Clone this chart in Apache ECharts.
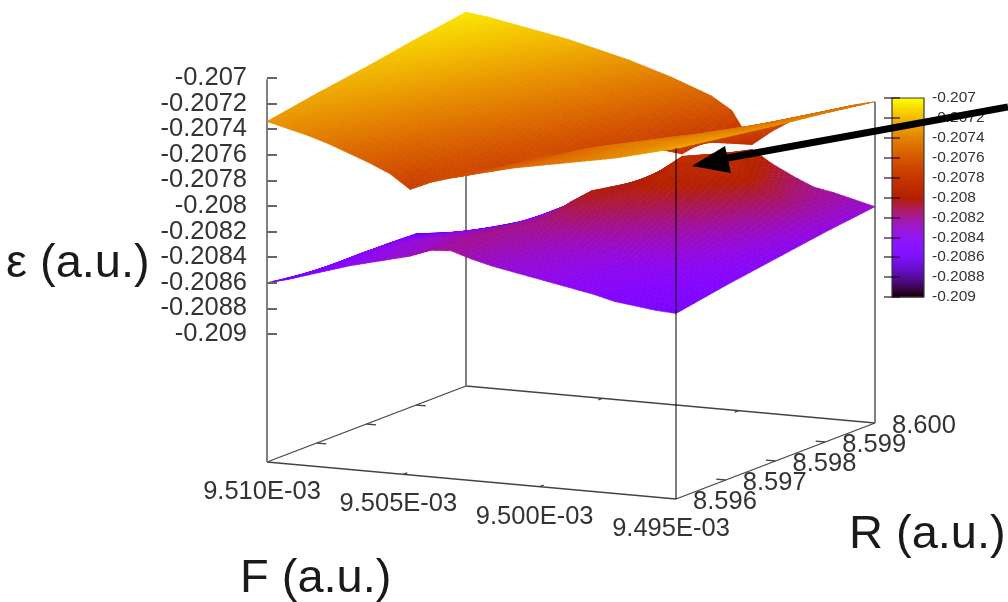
<!DOCTYPE html>
<html><head><meta charset="utf-8">
<style>html,body{margin:0;padding:0;background:#fff}#c{width:1008px;height:602px}</style>
<script src="https://cdn.jsdelivr.net/npm/echarts@6/dist/echarts.min.js"></script>
</head><body><div id="c"></div>
<script>
// ---- values ----
const fValues = [0.00951,0.00950925,0.0095085,0.00950775,0.009507,0.00950625,0.0095055,0.00950475,0.009504,0.00950325,0.0095025,0.00950175,0.009501,0.00950025,0.0094995,0.00949875,0.009498,0.00949725,0.0094965,0.00949575,0.009495];
const rValues = [8.596,8.597,8.598,8.599,8.6];
const upperR8596 = [-0.20733,-0.20737,-0.20741,-0.20746,-0.20752,-0.20758,-0.20765,-0.20776,-0.20769,-0.20764,-0.2076,-0.20756,-0.20752,-0.20749,-0.20746,-0.20743,-0.2074,-0.20737,-0.20733,-0.20729,-0.20725];
const upperR8597 = [-0.20726,-0.20729,-0.20733,-0.20737,-0.20742,-0.20747,-0.20752,-0.20758,-0.20766,-0.20772,-0.20765,-0.2076,-0.20756,-0.20751,-0.20747,-0.20744,-0.20741,-0.20739,-0.20736,-0.20734,-0.20731];
const upperR8598 = [-0.2072,-0.20722,-0.20725,-0.20729,-0.20733,-0.20737,-0.20741,-0.20746,-0.20751,-0.20757,-0.20767,-0.20775,-0.20766,-0.20761,-0.20757,-0.20753,-0.2075,-0.20746,-0.20743,-0.2074,-0.20737];
const upperR8599 = [-0.20713,-0.20715,-0.20718,-0.20721,-0.20725,-0.20729,-0.20733,-0.20737,-0.20742,-0.20747,-0.20753,-0.2076,-0.20772,-0.20784,-0.20773,-0.20765,-0.2076,-0.20755,-0.2075,-0.20746,-0.20742];
const upperR8600 = [-0.20707,-0.20709,-0.20712,-0.20715,-0.20718,-0.20721,-0.20725,-0.20729,-0.20733,-0.20738,-0.20743,-0.20749,-0.20755,-0.20765,-0.2079,-0.20778,-0.20768,-0.20762,-0.20757,-0.20752,-0.20748];
const lowerR8596 = [-0.20859,-0.20855,-0.2085,-0.20845,-0.2084,-0.20836,-0.20832,-0.20828,-0.20822,-0.20821,-0.20826,-0.2083,-0.20833,-0.20836,-0.20839,-0.20842,-0.20845,-0.20849,-0.20851,-0.20853,-0.20854];
const lowerR8597 = [-0.20865,-0.20857,-0.20849,-0.20842,-0.20836,-0.20832,-0.20829,-0.20826,-0.20822,-0.20818,-0.20821,-0.20824,-0.20827,-0.2083,-0.20833,-0.20836,-0.20838,-0.20841,-0.20843,-0.20845,-0.20847];
const lowerR8598 = [-0.20865,-0.20857,-0.2085,-0.20847,-0.20844,-0.20841,-0.20838,-0.20835,-0.20831,-0.20823,-0.20811,-0.20801,-0.20804,-0.20808,-0.20811,-0.20815,-0.2082,-0.20825,-0.2083,-0.20836,-0.20841];
const lowerR8599 = [-0.20865,-0.20864,-0.20862,-0.20861,-0.20857,-0.20852,-0.20845,-0.20836,-0.20828,-0.20823,-0.20816,-0.20808,-0.20798,-0.20786,-0.20788,-0.2079,-0.20797,-0.20806,-0.20815,-0.20825,-0.20835];
const lowerR8600 = [-0.2088,-0.20875,-0.2087,-0.20865,-0.20858,-0.2085,-0.20841,-0.20835,-0.2083,-0.20828,-0.20815,-0.20809,-0.20803,-0.20798,-0.20794,-0.20804,-0.20812,-0.20819,-0.20822,-0.20826,-0.2083];
const fTickValues = [0.00951,0.009505,0.0095,0.009495];
const fTickLabels = ['9.510E-03','9.505E-03','9.500E-03','9.495E-03'];
const rTickValues = [8.596,8.597,8.598,8.599,8.6];
const rTickLabels = ['8.596','8.597','8.598','8.599','8.600'];
const zTicks = [-0.209,-0.2088,-0.2086,-0.2084,-0.2082,-0.208,-0.2078,-0.2076,-0.2074,-0.2072,-0.207];

const upperRows = [upperR8596,upperR8597,upperR8598,upperR8599,upperR8600];
const lowerRows = [lowerR8596,lowerR8597,lowerR8598,lowerR8599,lowerR8600];

// ---- orthographic view of the (F, R, energy) box onto page pixels ----
const FONT = '"Liberation Sans", Arial, sans-serif';
const F0 = 0.00951, F1 = 0.009495, R0 = 8.596, R1 = 8.6, Zb = -0.20999;
function baseY(F,R){ const u=(F0-F)/(F0-F1), v=(R-R0)/(R1-R0); return 462+37*u-76*v; }
function project(F,R,E){
  const u=(F0-F)/(F0-F1), v=(R-R0)/(R1-R0);
  return [267+409*u+199*v, baseY(F,R)-(E-Zb)*128000];
}
function nearness(F,R,E){ return baseY(F,R)*5.28+(E-Zb)*128000*0.19; }

// gnuplot default pm3d palette (rgbformulae 7,5,15) over the colour range
function palette(E){
  const x=Math.max(0,Math.min(1,(E+0.209)/0.002));
  const r=Math.sqrt(x), g=x*x*x, b=Math.max(0,Math.sin(2*Math.PI*x));
  return 'rgb('+Math.round(r*255)+','+Math.round(g*255)+','+Math.round(b*255)+')';
}

// Fine cells for smooth shading: each read value cell is shaded in sub-steps.
const SUB_F=4, SUB_R=8, cells=[];
function sample(rows,a,b){
  const i=Math.min(Math.floor(a),fValues.length-2), j=Math.min(Math.floor(b),rValues.length-2);
  const s=a-i, t=b-j;
  const E=(1-t)*((1-s)*rows[j][i]+s*rows[j][i+1])+t*((1-s)*rows[j+1][i]+s*rows[j+1][i+1]);
  const F=fValues[i]+(fValues[i+1]-fValues[i])*s, R=rValues[j]+(rValues[j+1]-rValues[j])*t;
  return [F,R,E];
}
[upperRows,lowerRows].forEach(function(rows){
  for(let a=0;a<(fValues.length-1)*SUB_F;a++) for(let b=0;b<(rValues.length-1)*SUB_R;b++){
    const q=[sample(rows,a/SUB_F,b/SUB_R),sample(rows,(a+1)/SUB_F,b/SUB_R),sample(rows,(a+1)/SUB_F,(b+1)/SUB_R),sample(rows,a/SUB_F,(b+1)/SUB_R)];
    const avg=k=>(q[0][k]+q[1][k]+q[2][k]+q[3][k])/4;
    const c=project(avg(0),avg(1),avg(2));
    cells.push({pts:q.map(p=>project(p[0],p[1],p[2])),E:avg(2),n:nearness(avg(0),avg(1),avg(2)),c:c});
  }
});
cells.sort((p,q)=>p.n-q.n);

const lineStyleBase={stroke:'#444',lineWidth:1.3};
const lineStyleVert={stroke:'#808080',lineWidth:2};

function boxBack(){
  return [
    [[F0,R0,Zb],[F1,R0,Zb]],[[F0,R0,Zb],[F0,R1,Zb]],[[F0,R1,Zb],[F1,R1,Zb]],[[F1,R0,Zb],[F1,R1,Zb]],
  ];
}
const verticals=[
  [[F0,R0,Zb],[F0,R0,-0.207]],
  [[F0,R1,Zb],[F0,R1,upperR8600[0]]],
  [[F1,R1,Zb],[F1,R1,upperR8600[20]]],
];
const frontVertical=[[F1,R0,Zb],[F1,R0,upperR8596[20]]];

function seg(api,a,b,style){
  const p=api.coord(project(a[0],a[1],a[2])), q=api.coord(project(b[0],b[1],b[2]));
  return {type:'line',shape:{x1:p[0],y1:p[1],x2:q[0],y2:q[1]},style:style,silent:true};
}

const option={
  animation:false,
  backgroundColor:'#fff',
  grid:[
    {left:0,top:0,width:1008,height:602},
    {left:267,top:78,width:10,height:256},
    {left:892,top:98,width:32,height:199}
  ],
  xAxis:[
    {gridIndex:0,type:'value',min:0,max:1008,show:false},
    {gridIndex:1,type:'value',min:0,max:1,show:false},
    {gridIndex:2,type:'value',min:0,max:1,show:false}
  ],
  yAxis:[
    {gridIndex:0,type:'value',min:0,max:602,inverse:true,show:false},
    {gridIndex:1,type:'value',min:-0.209,max:-0.207,position:'left',
     axisLine:{show:false},splitLine:{show:false},
     axisTick:{show:true,inside:true,length:10,customValues:zTicks,lineStyle:{color:'#666',width:2}},
     axisLabel:{show:false},z:3},
    {gridIndex:2,type:'value',min:-0.209,max:-0.207,position:'right',
     axisLine:{show:false},splitLine:{show:false},
     axisTick:{show:true,inside:true,length:8,customValues:zTicks,lineStyle:{color:'rgba(30,0,30,0.75)',width:1.5}},
     axisLabel:{show:true,margin:8,customValues:zTicks,showMinLabel:true,showMaxLabel:true,hideOverlap:false,formatter:v=>String(v),fontFamily:FONT,fontSize:15.5,color:'#333'},z:5},
    {gridIndex:2,type:'value',min:-0.209,max:-0.207,position:'left',
     axisLine:{show:false},splitLine:{show:false},
     axisTick:{show:true,inside:true,length:8,customValues:zTicks,lineStyle:{color:'rgba(30,0,30,0.75)',width:1.5}},
     axisLabel:{show:false},z:5}
  ],
  series:[
    { // energy axis labels, placed through the energy axis scale
      type:'custom',xAxisIndex:1,yAxisIndex:1,coordinateSystem:'cartesian2d',clip:false,silent:true,z:3,
      data:zTicks.map(v=>[0,v]),
      encode:{x:0,y:1},
      renderItem:function(p,api){
        const q=api.coord([0,api.value(1)]);
        return {type:'text',x:q[0]-20,y:q[1],silent:true,style:{text:String(api.value(1)),font:'25.5px '+FONT,fill:'#333',align:'right',verticalAlign:'middle'}};
      }
    },
    { // box floor, back verticals, axis ticks
      type:'custom',xAxisIndex:0,yAxisIndex:0,coordinateSystem:'cartesian2d',clip:false,silent:true,z:1,
      data:[[0,0]],
      renderItem:function(p,api){
        const ch=[];
        boxBack().forEach(s=>ch.push(seg(api,s[0],s[1],lineStyleBase)));
        verticals.forEach(s=>ch.push(seg(api,s[0],s[1],lineStyleVert)));
        const dv=0.00008, du=3.5e-7;
        fTickValues.slice(1,3).forEach(F=>{
          ch.push(seg(api,[F,R0,Zb],[F,R0+dv,Zb],lineStyleBase));
          ch.push(seg(api,[F,R1,Zb],[F,R1-dv,Zb],lineStyleBase));
        });
        rTickValues.slice(1,4).forEach(R=>{
          ch.push(seg(api,[F0,R,Zb],[F0-du,R,Zb],lineStyleBase));
          ch.push(seg(api,[F1,R,Zb],[F1+du,R,Zb],lineStyleBase));
        });
        return {type:'group',children:ch};
      }
    },
    { // both energy sheets, far cells first
      type:'custom',xAxisIndex:0,yAxisIndex:0,coordinateSystem:'cartesian2d',clip:false,silent:true,z:2,
      progressive:0,animation:false,
      data:cells.map(c=>[c.c[0],c.c[1]]),
      encode:{x:0,y:1},
      renderItem:function(p,api){
        const c=cells[p.dataIndex], col=palette(c.E);
        return {type:'polygon',silent:true,shape:{points:c.pts.map(q=>api.coord(q))},style:{fill:col,stroke:col,lineWidth:0.7}};
      }
    },
    { // front vertical and tick labels
      type:'custom',xAxisIndex:0,yAxisIndex:0,coordinateSystem:'cartesian2d',clip:false,silent:true,z:3,
      data:[[0,0]],
      renderItem:function(p,api){
        const ch=[seg(api,frontVertical[0],frontVertical[1],{stroke:'rgba(0,0,0,0.5)',lineWidth:2})];
        fTickValues.forEach((F,i)=>{
          const q=api.coord(project(F,R0,Zb));
          ch.push({type:'text',x:q[0]-5,y:q[1]+30,style:{text:fTickLabels[i],font:'25.5px '+FONT,fill:'#333',align:'center',verticalAlign:'middle'}});
        });
        rTickValues.forEach((R,i)=>{
          const q=api.coord(project(F1,R,Zb));
          ch.push({type:'text',x:q[0]+49,y:q[1]+3,style:{text:rTickLabels[i],font:'25.5px '+FONT,fill:'#333',align:'center',verticalAlign:'middle'}});
        });
        return {type:'group',children:ch};
      }
    },
    { // colour bar, one band per value step
      type:'custom',xAxisIndex:2,yAxisIndex:2,coordinateSystem:'cartesian2d',clip:false,silent:true,z:4,
      data:Array.from({length:200},(_,i)=>[0,-0.209+i*0.00001]),
      encode:{x:0,y:1},
      renderItem:function(p,api){
        const e=api.value(1), a=api.coord([0,e]), b=api.coord([1,e+0.00001]);
        const col=palette(e+0.000005);
        return {type:'rect',shape:{x:a[0],y:b[1],width:b[0]-a[0],height:a[1]-b[1]+0.5},style:{fill:col}};
      }
    },
    { // colour bar frame
      type:'custom',xAxisIndex:2,yAxisIndex:2,coordinateSystem:'cartesian2d',clip:false,silent:true,z:5,
      data:[[0,-0.209]],
      renderItem:function(p,api){
        const a=api.coord([0,-0.209]), b=api.coord([1,-0.207]);
        return {type:'rect',shape:{x:a[0],y:b[1],width:b[0]-a[0],height:a[1]-b[1]},style:{fill:'none',stroke:'#3a3a3a',lineWidth:1.2}};
      }
    }
  ],
  graphic:[
    {type:'text',z:50,left:6,top:241,style:{text:'ε (a.u.)',font:'47px '+FONT,fill:'#1a1a1a'}},
    {type:'text',z:50,left:849,top:512,style:{text:'R (a.u.)',font:'47px '+FONT,fill:'#1a1a1a'}},
    {type:'text',z:50,left:240,top:556,style:{text:'F (a.u.)',font:'47px '+FONT,fill:'#1a1a1a'}},
    {type:'line',z:60,silent:true,shape:{x1:722,y1:159,x2:1008,y2:107},style:{stroke:'#000',lineWidth:7}},
    {type:'polygon',z:60,silent:true,shape:{points:[[692,166],[725,146],[731,173]]},style:{fill:'#000'}}
  ]
};
const chart=echarts.init(document.getElementById('c'),null,{renderer:'canvas'});
chart.setOption(option);
</script></body></html>
